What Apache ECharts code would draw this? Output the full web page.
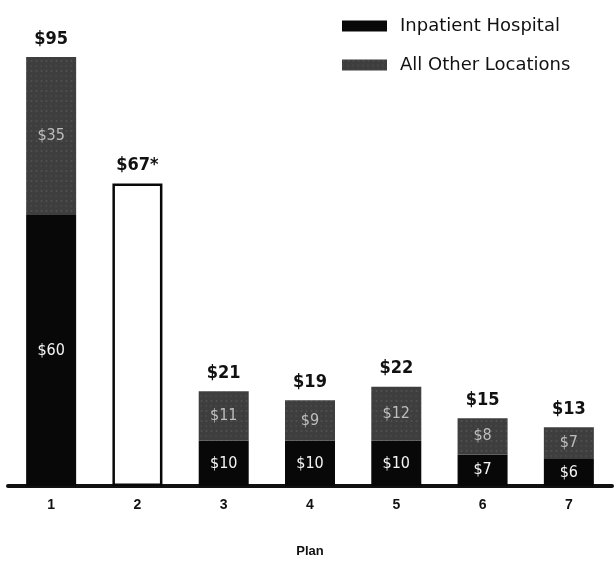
<!DOCTYPE html>
<html>
<head>
<meta charset="utf-8">
<script src="https://cdn.jsdelivr.net/npm/echarts@6/dist/echarts.min.js"></script>
<style>
  html, body { margin: 0; padding: 0; background: #fff; }
  #chart { width: 616px; height: 572px; }
</style>
</head>
<body>
<div id="chart"></div>
<script>
// Cost per plan, split by where care was delivered (dollars)
const plans = ['1', '2', '3', '4', '5', '6', '7'];
const inpatientHospital = [60, null, 10, 10, 10, 7, 6];
const allOtherLocations = [35, null, 11, 9, 12, 8, 7];
// Plan 2 is reported only as a single total
const planTotalOnly = [null, 67, null, null, null, null, null];
const totalLabels = ['$95', '$67*', '$21', '$19', '$22', '$15', '$13'];

const condensed = "'Liberation Sans Narrow', 'DejaVu Sans Condensed', 'Noto Sans', sans-serif";
const grayFill = '#3e3e3e';

const chart = echarts.init(document.getElementById('chart'), null, { renderer: 'canvas' });

const topLabel = {
  show: true,
  position: 'top',
  distance: 9,
  fontFamily: condensed,
  fontWeight: 'bold',
  fontSize: 18,
  color: '#111',
  formatter: p => totalLabels[p.dataIndex]
};

chart.setOption({
  animation: false,
  backgroundColor: '#fff',
  grid: { left: 8, right: 4, top: 57, bottom: 86, containLabel: false },
  legend: {
    orient: 'vertical',
    left: 337,
    top: 12,
    icon: 'rect',
    itemWidth: 45,
    itemHeight: 11,
    itemGap: 21,
    data: ['Inpatient Hospital', 'All Other Locations'],
    textStyle: {
      fontFamily: "'DejaVu Sans', 'Noto Sans', sans-serif",
      fontSize: 18,
      color: '#111',
      padding: [0, 0, 0, 8]
    }
  },
  xAxis: {
    type: 'category',
    data: plans,
    name: 'Plan',
    nameLocation: 'middle',
    nameGap: 59,
    nameTextStyle: {
      fontFamily: "'Liberation Sans', sans-serif",
      fontWeight: 'bold',
      fontSize: 13,
      color: '#111'
    },
    axisLine: { show: true, lineStyle: { color: '#111', width: 4 } },
    axisTick: { show: false },
    axisLabel: {
      margin: 12,
      fontFamily: "'Liberation Sans', sans-serif",
      fontWeight: 'bold',
      fontSize: 14,
      color: '#111'
    }
  },
  yAxis: {
    type: 'value',
    min: 0,
    max: 95,
    show: false,
    splitLine: { show: false }
  },
  series: [
    {
      name: 'Inpatient Hospital',
      type: 'bar',
      stack: 'cost',
      barWidth: 50,
      data: inpatientHospital,
      itemStyle: { color: '#080808' },
      label: {
        show: true,
        position: 'inside',
        fontFamily: condensed,
        fontSize: 16,
        color: '#f4f4f4',
        formatter: p => '$' + p.value
      }
    },
    {
      name: 'All Other Locations',
      type: 'bar',
      stack: 'cost',
      barWidth: 50,
      data: allOtherLocations,
      itemStyle: {
        color: grayFill,
        decal: {
          symbol: 'rect',
          symbolSize: 0.6,
          color: 'rgba(200,200,200,0.22)',
          dashArrayX: [[2, 3], [3, 2]],
          dashArrayY: [2, 3],
          rotation: 0
        }
      },
      label: {
        show: true,
        position: 'inside',
        fontFamily: condensed,
        fontSize: 16,
        color: '#bdbdbd',
        formatter: p => '$' + p.value
      }
    },
    {
      name: 'Plan total',
      type: 'bar',
      stack: 'cost',
      barWidth: 50,
      data: planTotalOnly,
      itemStyle: { color: '#fff', borderColor: '#080808', borderWidth: 2.5 },
      label: topLabel
    },
    {
      // Total labels above the stacked bars
      name: 'Totals',
      type: 'bar',
      stack: 'cost',
      barWidth: 50,
      data: allOtherLocations.map(v => (v == null ? null : 0)),
      itemStyle: { color: 'transparent' },
      label: topLabel,
      silent: true
    }
  ]
});
</script>
</body>
</html>
